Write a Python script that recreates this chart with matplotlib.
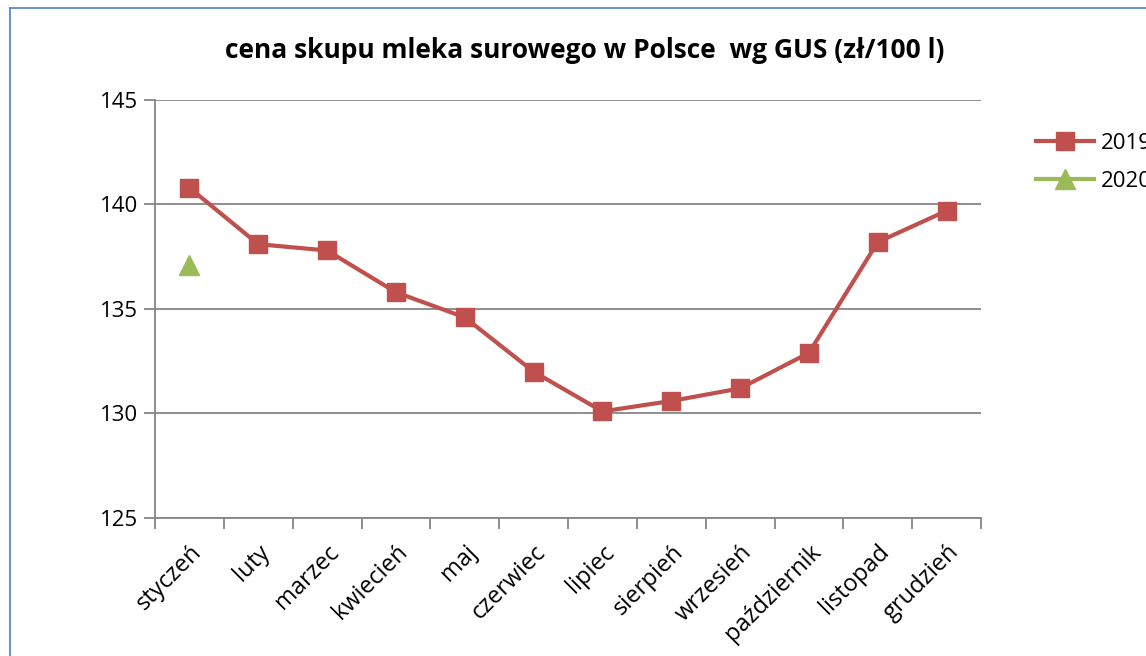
import numpy as np
import matplotlib.pyplot as plt
from matplotlib.lines import Line2D

plt.rcParams['font.family'] = ['Open Sans', 'DejaVu Sans']

# data
months = ['styczeń', 'luty', 'marzec', 'kwiecień', 'maj', 'czerwiec',
          'lipiec', 'sierpień', 'wrzesień', 'październik', 'listopad', 'grudzień']
price_2019 = [140.8, 138.1, 137.8, 135.8, 134.6, 132.0,
              130.1, 130.6, 131.2, 132.9, 138.2, 139.7]
price_2020 = [137.1]
y_ticks = [125, 130, 135, 140, 145]

fig = plt.figure(figsize=(11.46, 6.56), dpi=100)
ax = fig.add_axes([155/1146, 1 - 518/656, (981-155)/1146, (518-100)/656])

# outer chart frame (only left and top edges are visible)
W, H = 1146, 656
fig.add_artist(Line2D([10/W, 10/W], [0, 1 - 8/H], color='#5b8ac9', lw=1.3,
                      transform=fig.transFigure))
fig.add_artist(Line2D([10/W, 1], [1 - 8/H, 1 - 8/H], color='#5b8ac9', lw=1.3,
                      transform=fig.transFigure))

x = np.arange(len(months))
ax.plot(x, price_2019, color='#c0504d', lw=3, marker='s', markersize=13,
        label='2019', zorder=3)
ax.plot(x[:len(price_2020)], price_2020, color='#9bbb59', lw=3, marker='^',
        markersize=14, label='2020', zorder=3)

ax.set_xlim(-0.5, len(months) - 0.5)
ax.set_ylim(125, 145)
ax.set_yticks(y_ticks)
ax.grid(axis='y', color='#868686', lw=1.3)
ax.set_axisbelow(True)

ax.set_xticks(x)
ax.set_xticklabels(months, rotation=45, ha='right', rotation_mode='anchor',
                   fontsize=17)
ax.set_xticks(np.arange(-0.5, len(months)), minor=True)
ax.tick_params(axis='x', which='major', length=0, pad=16)
ax.tick_params(axis='x', which='minor', length=8, width=1.3, color='#868686',
               direction='out')
ax.tick_params(axis='y', length=8, width=1.3, color='#868686', labelsize=16,
               pad=4)

for side in ['top', 'right']:
    ax.spines[side].set_visible(False)
for side in ['left', 'bottom']:
    ax.spines[side].set_color('#868686')
    ax.spines[side].set_linewidth(1.3)

fig.text(585/W, 1 - 50/H, 'cena skupu mleka surowego w Polsce  wg GUS (zł/100 l)',
         ha='center', va='center', fontsize=19, fontweight='bold')

fig.legend(loc='upper left', bbox_to_anchor=(1016/W, 1 - 113/H), frameon=False,
           fontsize=16, handlelength=2.6, labelspacing=0.75, handletextpad=0.3)

fig.savefig('out.png', dpi=100)
